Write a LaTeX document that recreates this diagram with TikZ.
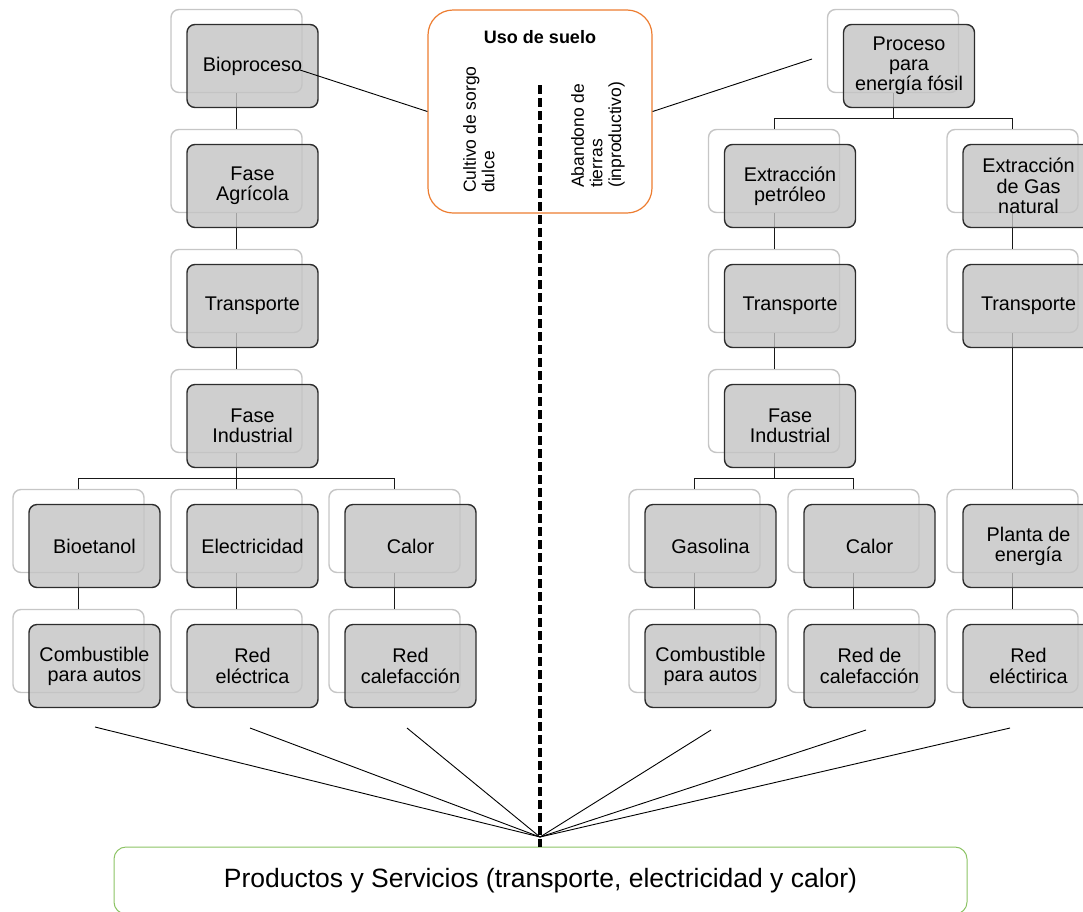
\documentclass[tikz,border=0pt]{standalone}
\usepackage{fontspec}
\setmainfont{Liberation Sans}
\usetikzlibrary{calc}

\definecolor{boxgrey}{RGB}{196,196,196}
\definecolor{backline}{RGB}{198,198,198}
\definecolor{edgedark}{RGB}{45,45,45}
\definecolor{usoorange}{RGB}{237,125,49}
\definecolor{prodgreen}{RGB}{140,195,100}

\pgfdeclarelayer{back}
\pgfdeclarelayer{links}
\pgfsetlayers{back,links,main}

% one stage: a pale outline card with a shaded card shifted onto it
\newcommand\stage[4]{%
  \begin{pgfonlayer}{back}
    \node[backbox] (#1b) at (#2,#3) {};
  \end{pgfonlayer}
  \node[frontbox] (#1) at (#2+16,#3+15) {#4};%
}

\begin{document}
\begin{tikzpicture}[x=1pt,y=-1pt,
  backbox/.style={draw=backline, line width=1.4pt, fill=white,
    rounded corners=8pt, minimum width=131pt, minimum height=83pt, inner sep=0pt},
  frontbox/.style={draw=edgedark, line width=1.4pt, fill=boxgrey,
    fill opacity=0.8, text opacity=1, rounded corners=8pt,
    minimum width=131pt, minimum height=83pt, inner sep=2pt, align=center,
    font=\fontsize{19.8}{20.2}\selectfont},
  link/.style={draw=black!90, line width=1pt},
  fan/.style={draw=black, line width=0.9pt},
  rottext/.style={rotate=90, anchor=north west, align=left, inner sep=0pt,
    font=\fontsize{17.5}{18.6}\selectfont},
]
\useasboundingbox (0,0) rectangle (1083,911);
\clip (0,0) rectangle (1083,911);

% ---- bioprocess chain
\stage{bio}{236.5}{51}{Bioproceso}
\stage{agr}{236.5}{171}{Fase\\Agrícola}
\stage{trl}{236.5}{291}{Transporte}
\stage{indl}{236.5}{411}{Fase\\Industrial}
\stage{etan}{78.5}{531}{Bioetanol}
\stage{elec}{236.5}{531}{Electricidad}
\stage{call}{394.5}{531}{Calor}
\stage{comb}{78.5}{651}{Combustible\\para autos}
\stage{redl}{236.5}{651}{Red\\eléctrica}
\stage{cale}{394.5}{651}{Red\\calefacción}

% ---- fossil chain
\stage{fos}{893}{51}{Proceso\\para\\energía fósil}
\stage{petr}{774}{171}{Extracción\\petróleo}
\stage{gasn}{1012.5}{171}{Extracción\\de Gas\\natural}
\stage{trp}{774}{291}{Transporte}
\stage{trg}{1012.5}{291}{Transporte}
\stage{indr}{774}{411}{Fase\\Industrial}
\stage{gaso}{694.5}{531}{Gasolina}
\stage{calr}{853.5}{531}{Calor}
\stage{plan}{1012.5}{531}{Planta de\\energía}
\stage{combr}{694.5}{651}{Combustible\\para autos}
\stage{redc}{853.5}{651}{Red de\\calefacción}
\stage{rede}{1012.5}{651}{Red\\eléctirica}

% ---- tree connectors
\begin{pgfonlayer}{links}
  \draw[link] (biob.south) -- (agrb.north);
  \draw[link] (agrb.south) -- (trlb.north);
  \draw[link] (trlb.south) -- (indlb.north);
  \foreach \c in {etan,elec,call}
    \draw[link] (indlb.south) |- ([yshift=10.5pt]\c b.north) -- (\c b.north);
  \draw[link] (etanb.south) -- (combb.north);
  \draw[link] (elecb.south) -- (redlb.north);
  \draw[link] (callb.south) -- (caleb.north);

  \foreach \c in {petr,gasn}
    \draw[link] (fosb.south) |- ([yshift=10.5pt]\c b.north) -- (\c b.north);
  \draw[link] (petrb.south) -- (trpb.north);
  \draw[link] (trpb.south) -- (indrb.north);
  \foreach \c in {gaso,calr}
    \draw[link] (indrb.south) |- ([yshift=10.5pt]\c b.north) -- (\c b.north);
  \draw[link] (gasob.south) -- (combrb.north);
  \draw[link] (calrb.south) -- (redcb.north);
  \draw[link] (gasnb.south) -- (trgb.north);
  \draw[link] (trgb.south) -- (planb.north);
  \draw[link] (planb.south) -- (redeb.north);
\end{pgfonlayer}

% ---- land use panel
\node[draw=usoorange, line width=1.2pt, fill=white, rounded corners=25pt,
  minimum width=224pt, minimum height=203pt, inner sep=0pt] (uso) at (540,111.5) {};
\node[font=\bfseries\fontsize{18}{20}\selectfont, anchor=base] (usotitle) at (540,43) {Uso de suelo};
\node[rottext] (cultivo) at (463,193) {Cultivo de sorgo\\dulce};
\node[rottext] (abandono) at (571,188) {Abandono de\\tierras\\(inproductivo)};

% ---- products and services
\node[draw=prodgreen, line width=1pt, rounded corners=12pt, minimum width=853pt,
  minimum height=67pt, font=\fontsize{26.5}{30}\selectfont] (prod) at (540.5,880.5)
  {Productos y Servicios (transporte, electricidad y calor)};

\coordinate (dtop) at (540,85);
\draw[line width=3.2pt, dash pattern=on 9pt off 4pt] (dtop) -- (dtop |- prod.north);

% links from the chains to the land use panel
\coordinate (bioend) at (300,70);
\coordinate (fosend) at (812,59);
\draw[fan] (bioend) -- (uso.west);
\draw[fan] (uso.east) -- (fosend);

% fan of outputs into products and services
\coordinate (hub) at (540,837);
\coordinate (f1) at (95,727);
\coordinate (f2) at (250,728);
\coordinate (f3) at (407,728);
\coordinate (f4) at (711,730);
\coordinate (f5) at (866,730);
\coordinate (f6) at (1010,728);
\foreach \f in {f1,f2,f3,f4,f5,f6}
  \draw[fan] (\f) -- (hub);
\end{tikzpicture}
\end{document}
